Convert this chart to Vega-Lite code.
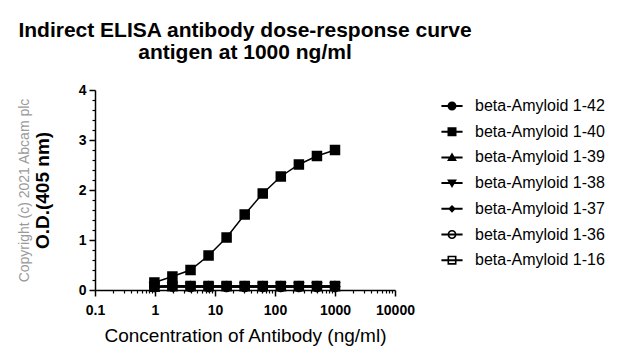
{
  "$schema": "https://vega.github.io/schema/vega-lite/v6.json",
  "width": 300,
  "height": 200,
  "autosize": {"type": "none"},
  "padding": {"left": 95, "top": 90, "right": 227, "bottom": 71},
  "background": "white",
  "config": {
    "font": "Liberation Sans",
    "view": {"stroke": null},
    "axis": {"grid": false, "domainColor": "black", "tickColor": "black", "labelColor": "black", "titleColor": "black"}
  },
  "title": {
    "text": ["Indirect ELISA antibody dose-response curve", "antigen at 1000 ng/ml"],
    "fontSize": 21,
    "fontWeight": "bold",
    "font": "Liberation Sans",
    "color": "black",
    "anchor": "middle",
    "lineHeight": 22,
    "offset": 20
  },
  "data": {
    "values": [
      {"s": "beta-Amyloid 1-42", "c": 0.977, "od": 0.07}, {"s": "beta-Amyloid 1-42", "c": 1.95, "od": 0.09}, {"s": "beta-Amyloid 1-42", "c": 3.91, "od": 0.08}, {"s": "beta-Amyloid 1-42", "c": 7.81, "od": 0.08}, {"s": "beta-Amyloid 1-42", "c": 15.6, "od": 0.08}, {"s": "beta-Amyloid 1-42", "c": 31.25, "od": 0.08}, {"s": "beta-Amyloid 1-42", "c": 62.5, "od": 0.08}, {"s": "beta-Amyloid 1-42", "c": 125, "od": 0.08}, {"s": "beta-Amyloid 1-42", "c": 250, "od": 0.08}, {"s": "beta-Amyloid 1-42", "c": 500, "od": 0.08}, {"s": "beta-Amyloid 1-42", "c": 1000, "od": 0.08},
      {"s": "beta-Amyloid 1-39", "c": 0.977, "od": 0.06}, {"s": "beta-Amyloid 1-39", "c": 1.95, "od": 0.07}, {"s": "beta-Amyloid 1-39", "c": 3.91, "od": 0.07}, {"s": "beta-Amyloid 1-39", "c": 7.81, "od": 0.07}, {"s": "beta-Amyloid 1-39", "c": 15.6, "od": 0.07}, {"s": "beta-Amyloid 1-39", "c": 31.25, "od": 0.07}, {"s": "beta-Amyloid 1-39", "c": 62.5, "od": 0.07}, {"s": "beta-Amyloid 1-39", "c": 125, "od": 0.07}, {"s": "beta-Amyloid 1-39", "c": 250, "od": 0.07}, {"s": "beta-Amyloid 1-39", "c": 500, "od": 0.07}, {"s": "beta-Amyloid 1-39", "c": 1000, "od": 0.07},
      {"s": "beta-Amyloid 1-38", "c": 0.977, "od": 0.06}, {"s": "beta-Amyloid 1-38", "c": 1.95, "od": 0.06}, {"s": "beta-Amyloid 1-38", "c": 3.91, "od": 0.06}, {"s": "beta-Amyloid 1-38", "c": 7.81, "od": 0.06}, {"s": "beta-Amyloid 1-38", "c": 15.6, "od": 0.06}, {"s": "beta-Amyloid 1-38", "c": 31.25, "od": 0.06}, {"s": "beta-Amyloid 1-38", "c": 62.5, "od": 0.06}, {"s": "beta-Amyloid 1-38", "c": 125, "od": 0.06}, {"s": "beta-Amyloid 1-38", "c": 250, "od": 0.06}, {"s": "beta-Amyloid 1-38", "c": 500, "od": 0.06}, {"s": "beta-Amyloid 1-38", "c": 1000, "od": 0.06},
      {"s": "beta-Amyloid 1-37", "c": 0.977, "od": 0.07}, {"s": "beta-Amyloid 1-37", "c": 1.95, "od": 0.08}, {"s": "beta-Amyloid 1-37", "c": 3.91, "od": 0.07}, {"s": "beta-Amyloid 1-37", "c": 7.81, "od": 0.07}, {"s": "beta-Amyloid 1-37", "c": 15.6, "od": 0.07}, {"s": "beta-Amyloid 1-37", "c": 31.25, "od": 0.07}, {"s": "beta-Amyloid 1-37", "c": 62.5, "od": 0.07}, {"s": "beta-Amyloid 1-37", "c": 125, "od": 0.07}, {"s": "beta-Amyloid 1-37", "c": 250, "od": 0.07}, {"s": "beta-Amyloid 1-37", "c": 500, "od": 0.07}, {"s": "beta-Amyloid 1-37", "c": 1000, "od": 0.07},
      {"s": "beta-Amyloid 1-36", "c": 0.977, "od": 0.06}, {"s": "beta-Amyloid 1-36", "c": 1.95, "od": 0.07}, {"s": "beta-Amyloid 1-36", "c": 3.91, "od": 0.06}, {"s": "beta-Amyloid 1-36", "c": 7.81, "od": 0.06}, {"s": "beta-Amyloid 1-36", "c": 15.6, "od": 0.06}, {"s": "beta-Amyloid 1-36", "c": 31.25, "od": 0.06}, {"s": "beta-Amyloid 1-36", "c": 62.5, "od": 0.06}, {"s": "beta-Amyloid 1-36", "c": 125, "od": 0.06}, {"s": "beta-Amyloid 1-36", "c": 250, "od": 0.06}, {"s": "beta-Amyloid 1-36", "c": 500, "od": 0.06}, {"s": "beta-Amyloid 1-36", "c": 1000, "od": 0.06},
      {"s": "beta-Amyloid 1-16", "c": 0.977, "od": 0.07}, {"s": "beta-Amyloid 1-16", "c": 1.95, "od": 0.08}, {"s": "beta-Amyloid 1-16", "c": 3.91, "od": 0.08}, {"s": "beta-Amyloid 1-16", "c": 7.81, "od": 0.08}, {"s": "beta-Amyloid 1-16", "c": 15.6, "od": 0.08}, {"s": "beta-Amyloid 1-16", "c": 31.25, "od": 0.08}, {"s": "beta-Amyloid 1-16", "c": 62.5, "od": 0.08}, {"s": "beta-Amyloid 1-16", "c": 125, "od": 0.08}, {"s": "beta-Amyloid 1-16", "c": 250, "od": 0.08}, {"s": "beta-Amyloid 1-16", "c": 500, "od": 0.08}, {"s": "beta-Amyloid 1-16", "c": 1000, "od": 0.08},
      {"s": "beta-Amyloid 1-40", "c": 0.977, "od": 0.15}, {"s": "beta-Amyloid 1-40", "c": 1.95, "od": 0.27}, {"s": "beta-Amyloid 1-40", "c": 3.91, "od": 0.40}, {"s": "beta-Amyloid 1-40", "c": 7.81, "od": 0.69}, {"s": "beta-Amyloid 1-40", "c": 15.6, "od": 1.05}, {"s": "beta-Amyloid 1-40", "c": 31.25, "od": 1.51}, {"s": "beta-Amyloid 1-40", "c": 62.5, "od": 1.93}, {"s": "beta-Amyloid 1-40", "c": 125, "od": 2.27}, {"s": "beta-Amyloid 1-40", "c": 250, "od": 2.51}, {"s": "beta-Amyloid 1-40", "c": 500, "od": 2.68}, {"s": "beta-Amyloid 1-40", "c": 1000, "od": 2.80}
    ]
  },
  "layer": [
    {
      "mark": {"type": "line", "color": "black", "strokeWidth": 1.5},
      "encoding": {
        "x": {
          "field": "c", "type": "quantitative",
          "scale": {"type": "log", "domain": [0.1, 10000], "nice": false},
          "axis": {
            "values": [0.1, 1, 10, 100, 1000, 10000], "format": "~g",
            "title": "Concentration of Antibody (ng/ml)",
            "labelFontSize": 14, "labelFontWeight": "bold", "labelPadding": 7,
            "titleFontSize": 19, "titleFontWeight": "normal", "titlePadding": 9,
            "tickSize": 6, "tickWidth": 1.5, "domainWidth": 1.5, "labelFlush": false, "labelOverlap": false
          }
        },
        "y": {
          "field": "od", "type": "quantitative",
          "scale": {"domain": [0, 4], "nice": false},
          "axis": {
            "values": [0, 1, 2, 3, 4],
            "title": "O.D.(405 nm)",
            "labelFontSize": 14, "labelFontWeight": "bold", "labelPadding": 3,
            "titleFontSize": 19, "titleFontWeight": "bold", "titlePadding": 26,
            "tickSize": 6, "tickWidth": 1.5, "domainWidth": 1.5, "labelFlush": false, "labelOverlap": false
          }
        },
        "detail": {"field": "s"}
      }
    },
    {
      "mark": {"type": "point", "filled": true, "size": 81, "stroke": "black", "strokeWidth": 1.5, "opacity": 1},
      "encoding": {
        "x": {
          "field": "c", "type": "quantitative",
          "axis": {
            "orient": "bottom",
            "values": [0.2, 0.3, 0.4, 0.5, 0.6, 0.7, 0.8, 0.9, 2, 3, 4, 5, 6, 7, 8, 9, 20, 30, 40, 50, 60, 70, 80, 90, 200, 300, 400, 500, 600, 700, 800, 900, 2000, 3000, 4000, 5000, 6000, 7000, 8000, 9000],
            "labels": false, "domain": false, "title": null, "tickSize": 3, "tickWidth": 1.2
          }
        },
        "y": {
          "field": "od", "type": "quantitative",
          "axis": {
            "orient": "left",
            "values": [0.2, 0.4, 0.6, 0.8, 1.2, 1.4, 1.6, 1.8, 2.2, 2.4, 2.6, 2.8, 3.2, 3.4, 3.6, 3.8],
            "labels": false, "domain": false, "tickSize": 3, "tickWidth": 1.2,
            "title": "Copyright (c) 2021 Abcam plc",
            "titleFontSize": 14, "titleFontWeight": "normal", "titleColor": "#9a9a9a", "titlePadding": 60
          }
        },
        "shape": {
          "field": "s", "type": "nominal",
          "scale": {
            "domain": ["beta-Amyloid 1-42", "beta-Amyloid 1-40", "beta-Amyloid 1-39", "beta-Amyloid 1-38", "beta-Amyloid 1-37", "beta-Amyloid 1-36", "beta-Amyloid 1-16"],
            "range": ["circle", "square", "triangle-up", "triangle-down", "diamond", "circle", "square"]
          },
          "legend": null
        },
        "fill": {
          "field": "s", "type": "nominal",
          "scale": {
            "domain": ["beta-Amyloid 1-42", "beta-Amyloid 1-40", "beta-Amyloid 1-39", "beta-Amyloid 1-38", "beta-Amyloid 1-37", "beta-Amyloid 1-36", "beta-Amyloid 1-16"],
            "range": ["black", "black", "black", "black", "black", "transparent", "transparent"]
          },
          "legend": null
        }
      }
    },
    {
      "mark": {"type": "point", "filled": true, "size": 81, "color": "black", "strokeWidth": 0, "opacity": 0},
      "encoding": {
        "x": {"field": "c", "type": "quantitative", "axis": null},
        "y": {"field": "od", "type": "quantitative", "axis": null},
        "shape": {
          "field": "s", "type": "nominal",
          "scale": {
            "domain": ["beta-Amyloid 1-42", "beta-Amyloid 1-40", "beta-Amyloid 1-39", "beta-Amyloid 1-38", "beta-Amyloid 1-37", "beta-Amyloid 1-36", "beta-Amyloid 1-16"],
            "range": [
              "M-2.35,-0.22H2.35V0.22H-2.35ZM-1,0A1,1,0,1,1,1,0A1,1,0,1,1,-1,0Z",
              "M-2.35,-0.22H2.35V0.22H-2.35ZM-1,-1H1V1H-1Z",
              "M-2.35,-0.22H2.35V0.22H-2.35ZM0,-1.1L1.1,0.8H-1.1Z",
              "M-2.35,-0.22H2.35V0.22H-2.35ZM0,1.1L-1.1,-0.8H1.1Z",
              "M-2.35,-0.22H2.35V0.22H-2.35ZM0,-0.85L0.85,0L0,0.85L-0.85,0Z",
              "M-2.35,-0.22H2.35V0.22H-2.35ZM-1,0A1,1,0,1,1,1,0A1,1,0,1,1,-1,0ZM-0.64,0A0.64,0.64,0,1,0,0.64,0A0.64,0.64,0,1,0,-0.64,0Z",
              "M-2.35,-0.22H2.35V0.22H-2.35ZM-1,-1H1V1H-1ZM-0.64,-0.64V0.64H0.64V-0.64Z"
            ]
          },
          "legend": {
            "orient": "none", "legendX": 349, "legendY": 8, "title": null,
            "labelFontSize": 16, "labelColor": "black", "labelOffset": 15,
            "symbolSize": 81, "symbolStrokeWidth": 0, "symbolOpacity": 1, "symbolFillColor": "black",
            "rowPadding": 9.7, "padding": 0, "labelLimit": 200
          }
        }
      }
    }
  ],
  "resolve": {
    "axis": {"x": "independent", "y": "independent"},
    "scale": {"shape": "independent"}
  }
}
